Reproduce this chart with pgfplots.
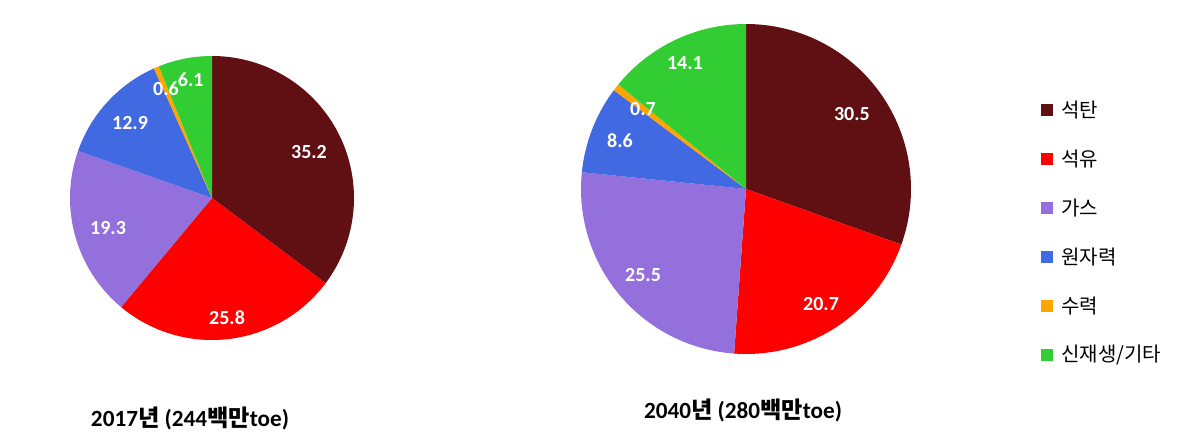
\documentclass[border=0pt]{standalone}
\usepackage{fontspec}
\setmainfont{Carlito}
\newfontfamily\kr{Noto Sans CJK KR}
\usepackage{pgfplots}
\usepackage{pgfplotstable}
\pgfplotsset{compat=1.18}

\definecolor{cCoal}{HTML}{600F12}
\definecolor{cOil}{HTML}{FF0000}
\definecolor{cGas}{HTML}{9370DB}
\definecolor{cNuc}{HTML}{4169E1}
\definecolor{cHyd}{HTML}{FFA500}
\definecolor{cRen}{HTML}{32CD32}

% 2017 (244 Mtoe)
\pgfplotstableread{
value color lx ly
35.2 cCoal 0.683 0.324
25.8 cOil 0.106 -0.845
19.3 cGas -0.732 -0.211
12.9 cNuc -0.577 0.528
0.6 cHyd -0.324 0.768
6.1 cRen -0.150 0.830
}\dataA

% 2040 (280 Mtoe)
\pgfplotstableread{
value color lx ly
30.5 cCoal 0.642 0.455
20.7 cOil 0.455 -0.697
25.5 cGas -0.624 -0.521
8.6 cNuc -0.764 0.291
0.7 cHyd -0.624 0.485
14.1 cRen -0.370 0.764
}\dataB

\tikzset{lbl/.style={text=white, font=\bfseries\fontsize{10}{12}\selectfont}}

\newcommand\drawpie[1]{%
  \pgfplotstablegetrowsof{#1}\pgfmathtruncatemacro\pnlast{\pgfplotsretval-1}%
  \def\ptot{0}%
  \pgfplotsforeachungrouped \pidx in {0,...,\pnlast}{%
    \pgfplotstablegetelem{\pidx}{value}\of{#1}%
    \pgfmathsetmacro\ptot{\ptot+\pgfplotsretval}}%
  \def\pcum{0}%
  \pgfplotsforeachungrouped \pidx in {0,...,\pnlast}{%
    \pgfplotstablegetelem{\pidx}{value}\of{#1}\let\pval\pgfplotsretval
    \pgfplotstablegetelem{\pidx}{color}\of{#1}\let\pcol\pgfplotsretval
    \pgfmathsetmacro\pstart{90-360*(\pcum/\ptot)}%
    \pgfmathsetmacro\pcum{\pcum+\pval}%
    \pgfmathsetmacro\pend{90-360*(\pcum/\ptot)}%
    \xdef\ppts{(0,0)}%
    \foreach \k in {0,...,90}{%
      \pgfmathsetmacro\pang{\pstart+(\pend-\pstart)*\k/90}%
      \pgfmathsetmacro\ppx{cos(\pang)}\pgfmathsetmacro\ppy{sin(\pang)}%
      \xdef\ppts{\ppts(\ppx,\ppy)}}%
    \edef\ptemp{\noexpand\addplot[fill=\pcol,draw=none] coordinates {\ppts};}%
    \ptemp
  }%
  \pgfplotsforeachungrouped \pidx in {0,...,\pnlast}{%
    \pgfplotstablegetelem{\pidx}{value}\of{#1}\let\pval\pgfplotsretval
    \pgfplotstablegetelem{\pidx}{lx}\of{#1}\let\plx\pgfplotsretval
    \pgfplotstablegetelem{\pidx}{ly}\of{#1}\let\ply\pgfplotsretval
    \edef\ptemp{\noexpand\node[lbl] at (axis cs:\plx,\ply) {\pval};}%
    \ptemp
  }%
}

\begin{document}
\begin{tikzpicture}
\path (0,0) rectangle (600pt,220pt);

\begin{axis}[hide axis, scale only axis, width=142pt, height=142pt,
  xmin=-1, xmax=1, ymin=-1, ymax=1, clip=false,
  at={(106pt,121pt)}, anchor=center]
\drawpie{\dataA}
\end{axis}

\begin{axis}[hide axis, scale only axis, width=165pt, height=165pt,
  xmin=-1, xmax=1, ymin=-1, ymax=1, clip=false,
  at={(373pt,125.5pt)}, anchor=center]
\drawpie{\dataB}
\end{axis}

\node[font=\bfseries\fontsize{11.6}{13}\selectfont] at (95pt,11pt) {2017{\kr 년} (244{\kr 백만}toe)};
\node[font=\bfseries\fontsize{11.6}{13}\selectfont] at (371.5pt,15pt) {2040{\kr 년} (280{\kr 백만}toe)};

\foreach \col/\txt [count=\j from 0] in {cCoal/석탄, cOil/석유, cGas/가스, cNuc/원자력, cHyd/수력, cRen/{신재생/기타}}{
  \pgfmathsetmacro\yy{220-0.5*(110+49*\j)}
  \fill[\col] (520.5pt,\yy pt-3pt) rectangle (526.5pt,\yy pt+3pt);
  \node[anchor=west, font=\kr\fontsize{10}{12}\selectfont, inner sep=0pt] at (530.5pt,\yy pt) {\txt};
}
\end{tikzpicture}
\end{document}
